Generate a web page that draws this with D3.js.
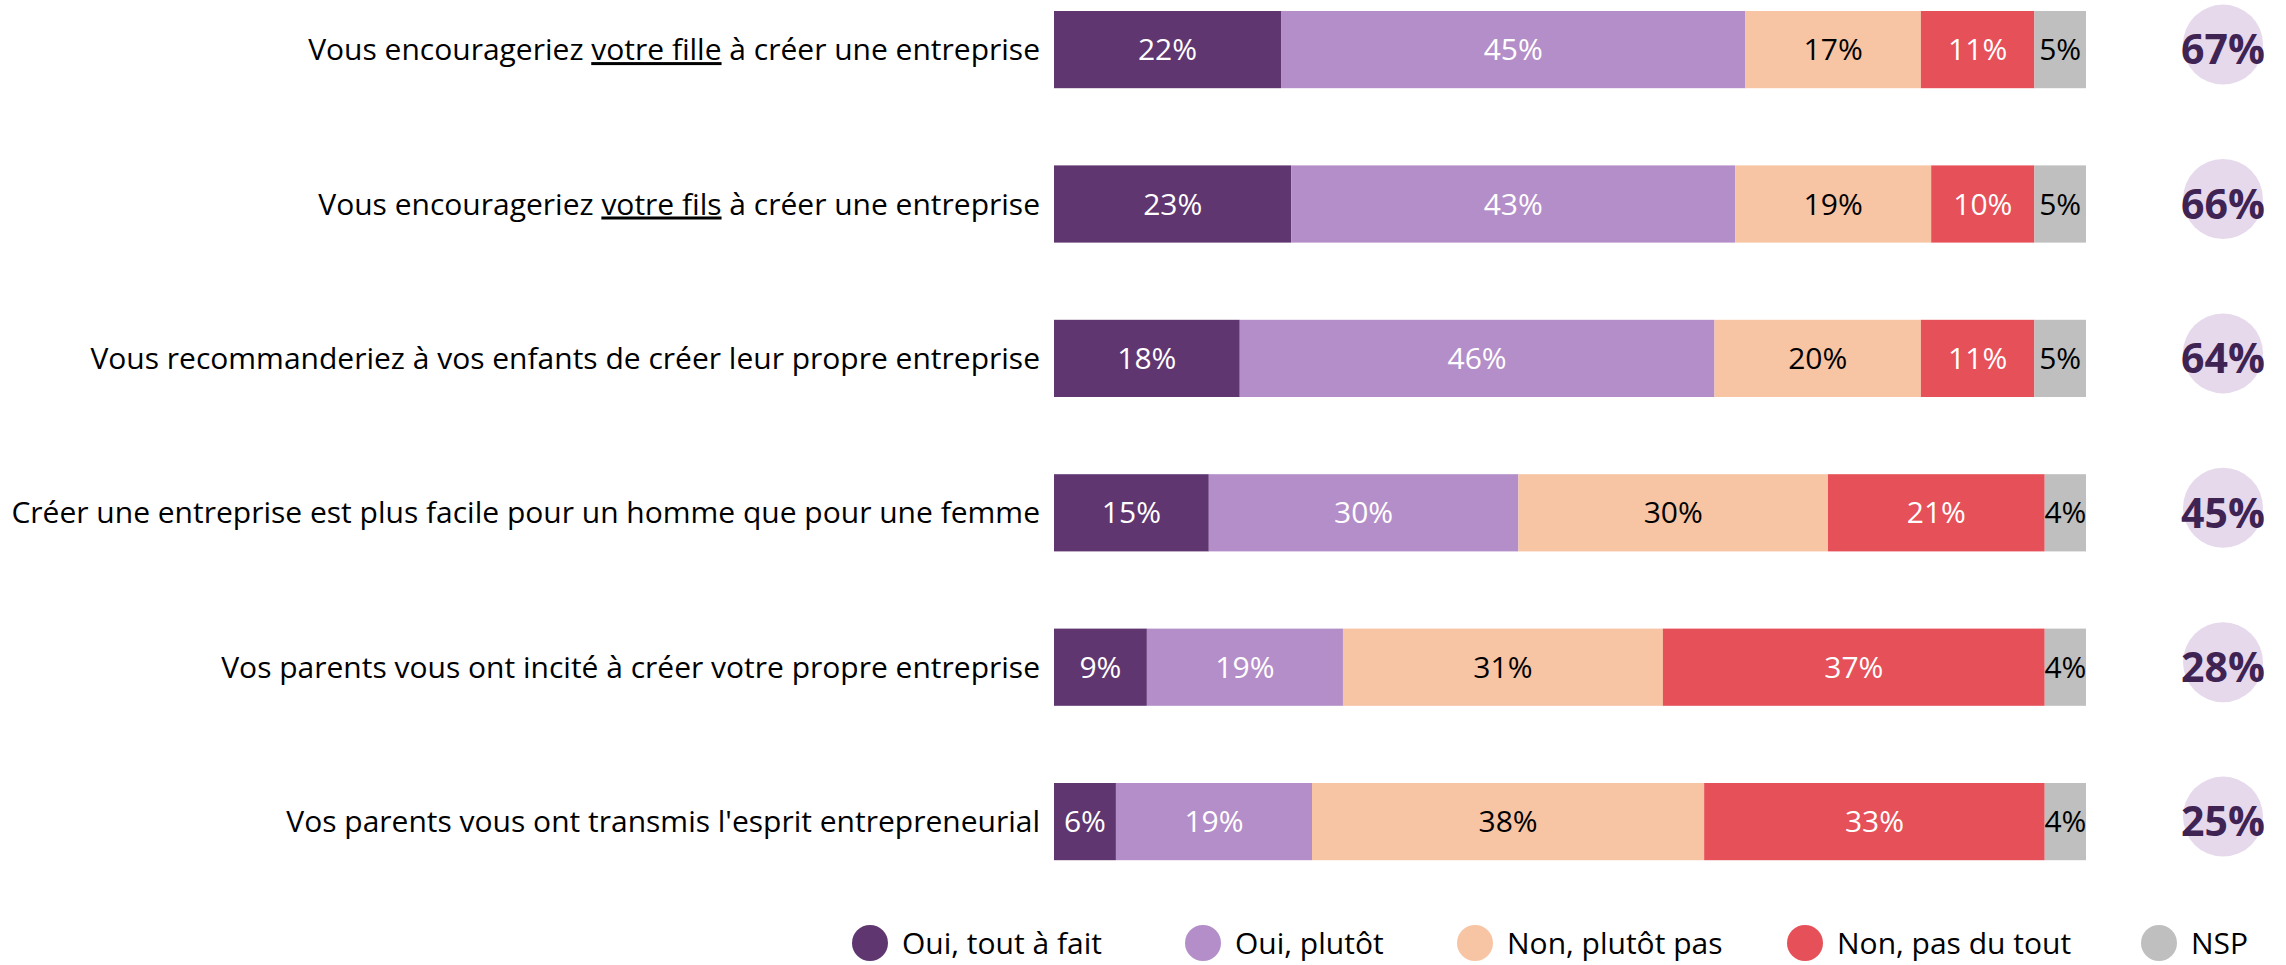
<!DOCTYPE html>
<html>
<head>
<meta charset="utf-8">
<script src="https://cdn.jsdelivr.net/npm/d3@7"></script>
<style>
  html, body { margin: 0; padding: 0; background: #fff; }
  svg { display: block; }
  text { font-family: "Open Sans", "Noto Sans", sans-serif; }
</style>
</head>
<body>
<svg id="chart" width="2286" height="965"></svg>
<script>
// ---- Data ----
const categories = [
  "Vous encourageriez votre fille à créer une entreprise",
  "Vous encourageriez votre fils à créer une entreprise",
  "Vous recommanderiez à vos enfants de créer leur propre entreprise",
  "Créer une entreprise est plus facile pour un homme que pour une femme",
  "Vos parents vous ont incité à créer votre propre entreprise",
  "Vos parents vous ont transmis l'esprit entrepreneurial"
];
// underlined part of each label (empty = none)
const underlined = ["votre fille", "votre fils", "", "", "", ""];
const seriesNames = ["Oui, tout à fait", "Oui, plutôt", "Non, plutôt pas", "Non, pas du tout", "NSP"];
const ouiToutAFait = [22, 23, 18, 15, 9, 6];
const ouiPlutot    = [45, 43, 46, 30, 19, 19];
const nonPlutotPas = [17, 19, 20, 30, 31, 38];
const nonPasDuTout = [11, 10, 11, 21, 37, 33];
const nsp          = [5, 5, 5, 4, 4, 4];
const totalOui     = [67, 66, 64, 45, 28, 25];

const seriesValues = [ouiToutAFait, ouiPlutot, nonPlutotPas, nonPasDuTout, nsp];
const colors = ["#5f3670", "#b48ec8", "#f7c4a4", "#e65058", "#bfbfbf"];
const labelColors = ["#ffffff", "#ffffff", "#000000", "#ffffff", "#000000"];

// ---- Layout ----
const svg = d3.select("#chart");
const x = d3.scaleLinear().domain([0, 100]).range([1054, 2086]);
const y = d3.scaleBand().domain(categories).range([-27.6, 898.8]).paddingInner(0.5).paddingOuter(0.25);
const fontSize = 30;

// stack
const rows = categories.map((c, i) => {
  const o = { cat: c };
  seriesNames.forEach((s, j) => o[s] = seriesValues[j][i]);
  return o;
});
const stack = d3.stack().keys(seriesNames)(rows);

const layers = svg.append("g").selectAll("g.layer").data(stack).join("g")
  .attr("class", "layer")
  .attr("fill", (d, i) => colors[i]);

layers.selectAll("rect").data(d => d).join("rect")
  .attr("x", d => x(d[0]))
  .attr("y", d => y(d.data.cat))
  .attr("width", d => x(d[1]) - x(d[0]))
  .attr("height", y.bandwidth());

layers.each(function(layer, li) {
  d3.select(this).selectAll("text").data(layer).join("text")
    .attr("x", d => (x(d[0]) + x(d[1])) / 2)
    .attr("y", d => y(d.data.cat) + y.bandwidth() / 2)
    .attr("dy", "0.35em")
    .attr("text-anchor", "middle")
    .attr("fill", labelColors[li])
    .attr("font-size", fontSize)
    .text(d => (d[1] - d[0]) + "%");
});

// category labels
const lab = svg.append("g").selectAll("text").data(categories).join("text")
  .attr("x", 1040)
  .attr("y", d => y(d) + y.bandwidth() / 2)
  .attr("dy", "0.35em")
  .attr("text-anchor", "end")
  .attr("font-size", fontSize)
  .attr("fill", "#000");
lab.each(function(d, i) {
  const t = d3.select(this);
  const u = underlined[i];
  if (u) {
    const k = d.indexOf(u);
    t.append("tspan").text(d.slice(0, k));
    t.append("tspan").attr("text-decoration", "underline").text(u);
    t.append("tspan").text(d.slice(k + u.length));
  } else {
    t.text(d);
  }
});

// total circles
const tot = svg.append("g").selectAll("g").data(categories).join("g");
tot.append("circle")
  .attr("cx", 2223)
  .attr("cy", d => y(d) + y.bandwidth() / 2 - 5)
  .attr("r", 40)
  .attr("fill", "#e6d9ec");
tot.append("text")
  .attr("x", 2223)
  .attr("y", d => y(d) + y.bandwidth() / 2)
  .attr("dy", "0.36em")
  .attr("text-anchor", "middle")
  .attr("font-size", 41)
  .attr("font-weight", "bold")
  .attr("fill", "#3f2353")
  .text((d, i) => totalOui[i] + "%");

// legend
const legendX = [870, 1203, 1475, 1805, 2159];
const legend = svg.append("g").selectAll("g").data(seriesNames).join("g")
  .attr("transform", (d, i) => `translate(${legendX[i]},943)`);
legend.append("circle").attr("r", 18).attr("fill", (d, i) => colors[i]);
legend.append("text")
  .attr("x", 32)
  .attr("dy", "0.35em")
  .attr("font-size", fontSize)
  .attr("fill", "#000")
  .text(d => d);
</script>
</body>
</html>
